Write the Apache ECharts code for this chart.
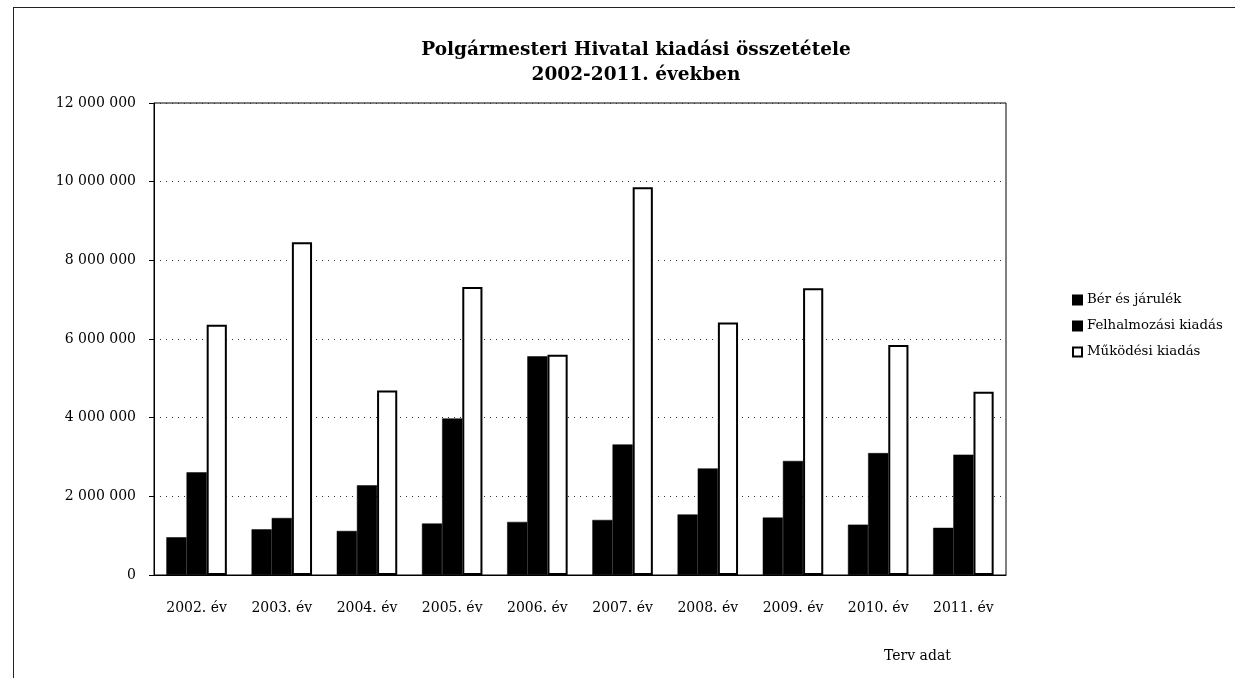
<!DOCTYPE html>
<html>
<head>
<meta charset="utf-8">
<script src="https://cdn.jsdelivr.net/npm/echarts@6/dist/echarts.min.js"></script>
<style>
  html, body { margin: 0; padding: 0; background: #fff; }
  #frame { position: absolute; left: 13px; top: 7px; width: 1230px; height: 680px;
           border-top: 1px solid #222; border-left: 1px solid #222; }
  #chart { position: absolute; left: 0; top: 0; width: 1235px; height: 678px; }
</style>
</head>
<body>
<div id="frame"></div>
<div id="chart"></div>
<script>
// évek
const years = ["2002. év", "2003. év", "2004. év", "2005. év", "2006. év",
               "2007. év", "2008. év", "2009. év", "2010. év", "2011. év"];
// Bér és járulék
const berData = [960000, 1160000, 1120000, 1310000, 1350000, 1400000, 1540000, 1460000, 1280000, 1200000];
// Felhalmozási kiadás
const felhData = [2610000, 1450000, 2280000, 3980000, 5560000, 3320000, 2710000, 2900000, 3100000, 3060000];
// Működési kiadás
const mukData = [6360000, 8460000, 4690000, 7320000, 5600000, 9860000, 6420000, 7290000, 5850000, 4660000];

const font = "DejaVu Serif";

function fmt(v) {
  return String(v).replace(/\B(?=(\d{3})+(?!\d))/g, " ");
}

var myChart = echarts.init(document.getElementById("chart"));
let option = {
  backgroundColor: "transparent",
  animation: false,
  title: {
    text: "Polgármesteri Hivatal kiadási összetétele\n2002-2011. években",
    left: 636,
    top: 38,
    padding: 0,
    textAlign: "center",
    textStyle: {
      fontFamily: font,
      fontSize: 18.5,
      fontWeight: "bold",
      color: "#000",
      lineHeight: 25
    }
  },
  legend: {
    orient: "vertical",
    left: 1072,
    top: 293,
    padding: 0,
    itemWidth: 9,
    itemHeight: 9,
    itemGap: 12,
    icon: "rect",
    textStyle: { fontFamily: font, fontSize: 13.3, color: "#000", lineHeight: 14 }
  },
  grid: {
    left: 154,
    right: 229,
    top: 103,
    bottom: 103,
    show: true,
    borderColor: "#000",
    borderWidth: 1
  },
  xAxis: {
    type: "category",
    data: years,
    axisLine: { lineStyle: { color: "#000", width: 1 } },
    axisTick: { show: false },
    axisLabel: { fontFamily: font, fontSize: 14, color: "#000", margin: 26 }
  },
  yAxis: {
    type: "value",
    min: 0,
    max: 12000000,
    interval: 2000000,
    axisLine: { show: true, lineStyle: { color: "#000", width: 1 } },
    axisTick: { show: true, length: 5, lineStyle: { color: "#000" } },
    splitLine: { lineStyle: { color: "#333", type: [1, 5], width: 1 } },
    axisLabel: { fontFamily: font, fontSize: 14, color: "#000", margin: 18, formatter: fmt }
  },
  series: [
    {
      name: "Bér és járulék",
      type: "bar",
      data: berData,
      barGap: "0%",
      barCategoryGap: "29%",
      itemStyle: { color: "#000", borderColor: "#000", borderWidth: 0.5 }
    },
    {
      name: "Felhalmozási kiadás",
      type: "bar",
      data: felhData,
      itemStyle: { color: "#000", borderColor: "#000", borderWidth: 0.5 }
    },
    {
      name: "Működési kiadás",
      type: "bar",
      data: mukData,
      itemStyle: { color: "#fff", borderColor: "#000", borderWidth: 2 }
    }
  ],
  graphic: [
    {
      type: "text",
      left: 884,
      top: 649,
      style: { text: "Terv adat", font: "14px 'DejaVu Serif'", fill: "#000" }
    }
  ]
};
myChart.setOption(option);
</script>
</body>
</html>
